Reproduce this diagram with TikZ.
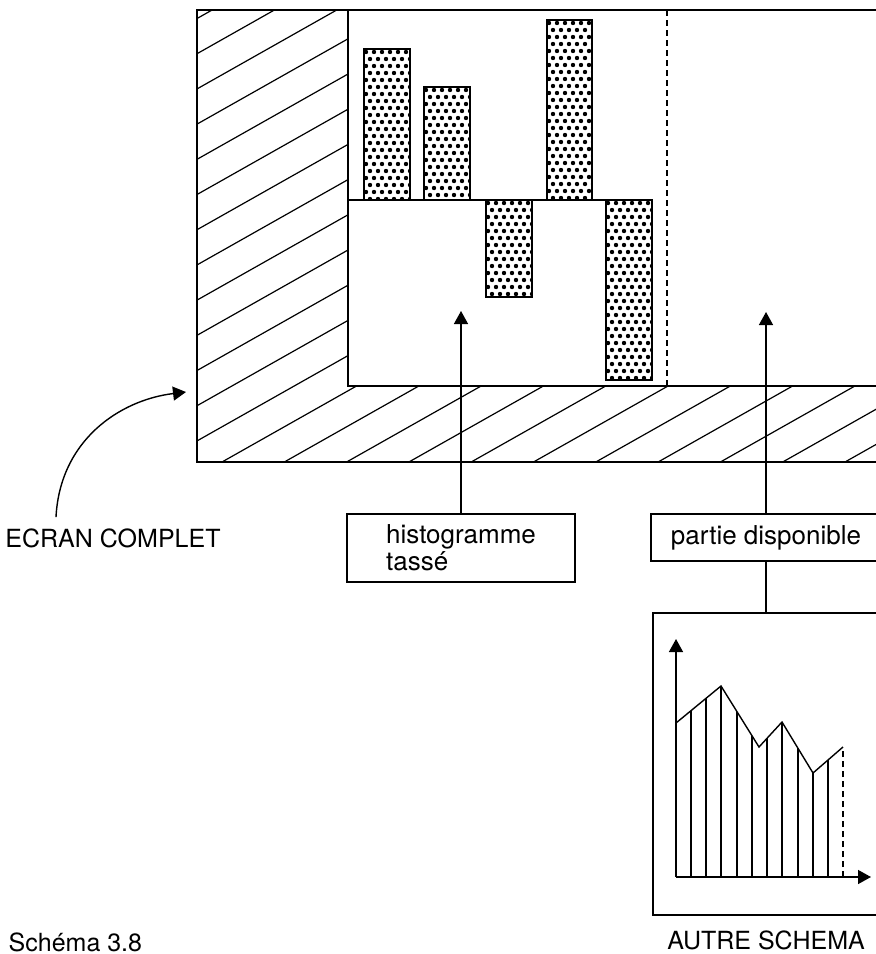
\documentclass[tikz,border=0pt]{standalone}
\usepackage{fontspec}
\setmainfont{TeX Gyre Heros}
\usetikzlibrary{arrows.meta,positioning,calc}

\begin{document}
\begin{tikzpicture}[x=0.5pt,y=-0.5pt,
  every node/.style={font=\fontsize{12.5}{12}\selectfont},
  line width=0.7pt,
  lbox/.style={draw, line width=0.8pt, align=left, font=\fontsize{13}{12.5}\selectfont},
  arr/.style={-{Triangle[length=6.5pt,width=7pt]}},
  bar/.style={line width=1.3pt},
  hatch/.style={line width=0.6pt},
  dashline/.style={dash pattern=on 3pt off 2pt}
]
  \useasboundingbox (0,0) rectangle (876,954);
  \clip (0,0) rectangle (876,954);

  \begin{scope}
    \clip (197,10) -- (348,10) -- (348,386) -- (890,386) -- (890,462) -- (197,462) -- cycle;
    \foreach \k in {-14,...,11}
      \draw[hatch] ({222+62.3*\k},462) -- ++(900,-508.5);
  \end{scope}
  \draw (890,10) -- (197,10) -- (197,462) -- (890,462);
  \draw (348,10) -- (348,386) -- (890,386);
  \draw[dashline] (667,10) -- (667,388);

  \foreach \xa/\xb/\ya/\yb in {364/410/49/200, 424/470/87/200, 486/532/200/297, 547/592/20/200, 606/652/200/380}{
    \begin{scope}
      \clip (\xa,\ya) rectangle (\xb,\yb);
      \foreach \j in {0,...,26}
        \foreach \i in {0,...,6}
          \fill ({\xa+2+8*\i+4*mod(\j,2)},{\ya+3+7*\j}) circle (1.1pt);
    \end{scope}
    \draw[bar] (\xa,\ya) rectangle (\xb,\yb);
  }
  \draw (348,200) -- (652,200);

  \node (ecran) at (113,538) {ECRAN COMPLET};
  \node[lbox, minimum width=114pt, minimum height=34pt] (histo) at (461,548) {histogramme\\[1pt]tassé};
  \node[lbox, minimum width=115pt, minimum height=23.5pt] (partie) at (766,537.5) {partie disponible};
  \node[draw, minimum width=113pt, minimum height=151pt] (autre) at (766,764) {};
  \node[below=6pt of autre, inner sep=1pt] (autrelbl) {AUTRE SCHEMA};
  \node[anchor=north west, inner sep=0pt] (schema) at (8,932) {Schéma 3.8};

  \coordinate (ecrantip) at (186,392);
  \coordinate (histotip) at (461,311);
  \coordinate (partietip) at (766,312);
  \draw[arr] ($(ecran.north)+(-57,-4)$) .. controls (60,440) and (120,400) .. (ecrantip);
  \draw[arr] (histo) -- (histotip);
  \draw[arr] (partie) -- (partietip);
  \draw (partie) -- (autre);

  \coordinate (orig) at (676,877);
  \coordinate (ytip) at (676,639);
  \coordinate (xtip) at (871,877);
  \draw[arr] (orig) -- (ytip);
  \draw[arr] (orig) -- (xtip);
  \draw (676,723) -- (721,686) -- (759,747) -- (782,722) -- (813,773) -- (843,747);
  \foreach \x/\y in {691/710.7, 706/698.3, 721/686, 737/711.7, 752/735.8, 767/738.3, 782/722, 798/748.3, 813/773, 828/760}
    \draw (\x,877) -- (\x,\y);
  \draw[dashline] (843,877) -- (843,747);
\end{tikzpicture}
\end{document}
